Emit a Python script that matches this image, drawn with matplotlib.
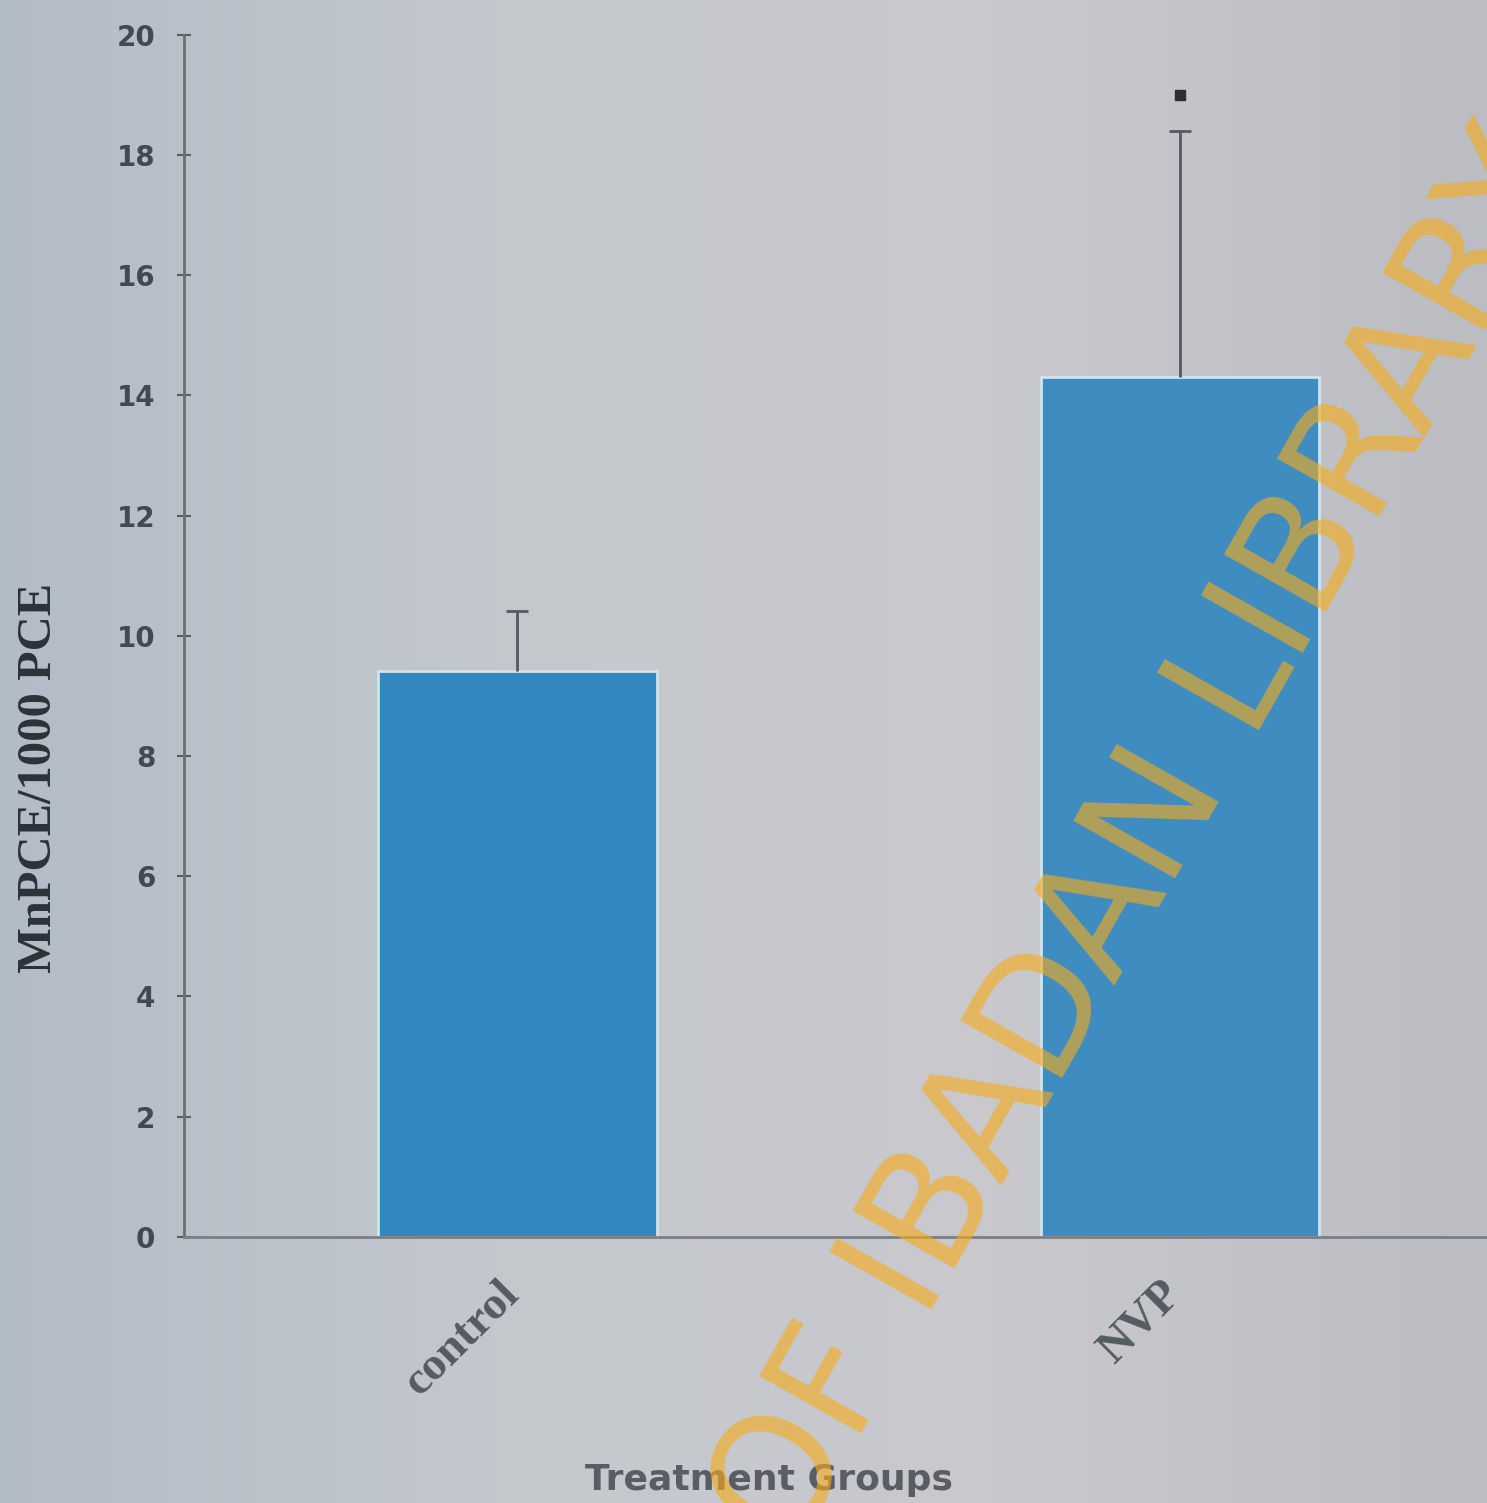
import matplotlib
matplotlib.use("Agg")
import matplotlib.pyplot as plt
import matplotlib.transforms as mtransforms
import numpy as np
from matplotlib.colors import LinearSegmentedColormap

categories = ["control", "NVP"]
means = [9.42, 14.3]
err_up = [1.0, 4.1]
sig_marks = [None, 19.0]
yticks = [0, 2, 4, 6, 8, 10, 12, 14, 16, 18, 20]
bar_colors = ["#3288bf", "#3f8cc0"]

fig = plt.figure(figsize=(14.87, 15.03), dpi=100)
fig.patch.set_facecolor("#c3c7cc")

# subtle background gradient (photo lighting)
bg = fig.add_axes([0, 0, 1, 1], zorder=-10)
grad = np.linspace(0, 1, 256)[None, :]
cm = LinearSegmentedColormap.from_list("bg", ["#b2bcc7", "#c4c8ce", "#c9c9cd", "#bbbdc3"])
bg.imshow(grad, aspect="auto", cmap=cm, extent=[0, 1, 0, 1])
bg.axis("off")

ax = fig.add_axes([0.124, 0.177, 0.876, 0.800])
ax.set_facecolor("none")
x = np.arange(len(categories))
ax.bar(x, means, width=0.42, color=bar_colors, edgecolor="#d2e4ee", linewidth=2, zorder=2)
eb = ax.errorbar(x, means, yerr=[[0, 0], err_up], fmt="none", ecolor="#555a60",
                 elinewidth=2, capsize=8, capthick=2, zorder=3)
caps = eb[1]
if len(caps) == 2:
    caps[0].set_visible(False)
for xi, s in zip(x, sig_marks):
    if s is not None:
        ax.plot(xi, s, marker="s", color="#2b2f33", markersize=7, zorder=4)

ax.set_xlim(-0.503, 1.464)
ax.set_ylim(0, 20)
ax.set_yticks(yticks)
ax.set_yticklabels([str(t) for t in yticks], fontsize=20, fontweight="bold", color="#3f4a55",
                   family="DejaVu Sans")
ax.tick_params(axis="y", length=10, width=1.5, color="#5a5f66", pad=16, direction="inout")
ax.set_xticks(x)
ax.set_xticklabels(categories, rotation=45, ha="right", rotation_mode="anchor",
                   fontsize=34, fontweight="bold", color="#555b63", family="Liberation Serif")
ax.tick_params(axis="x", length=0, pad=26)
offset = mtransforms.ScaledTranslation(-0.2, 0, fig.dpi_scale_trans)
for lab in ax.get_xticklabels():
    lab.set_transform(lab.get_transform() + offset)
for s in ["top", "right"]:
    ax.spines[s].set_visible(False)
ax.spines["left"].set_color("#6a6f75")
ax.spines["left"].set_linewidth(2)
ax.spines["bottom"].set_color("#7a7f85")
ax.spines["bottom"].set_linewidth(2)

ax.set_ylabel("MnPCE/1000 PCE", fontsize=35, fontweight="bold", family="Liberation Serif",
              color="#2c3238")
ax.yaxis.set_label_coords(-0.095, 0.382)
ax.set_xlabel("Treatment Groups", fontsize=26, fontweight="bold", color="#5a5d63",
              family="DejaVu Sans")
ax.xaxis.set_label_coords(0.449, -0.188)

fig.text(0.533, -0.0356, "OF IBADAN LIBRARY", rotation=60.5, fontsize=115, color="#f5ac1a",
         alpha=0.62, ha="left", va="baseline", rotation_mode="anchor",
         family="DejaVu Sans", zorder=10)

fig.savefig("out.png", dpi=100, facecolor=fig.get_facecolor())
